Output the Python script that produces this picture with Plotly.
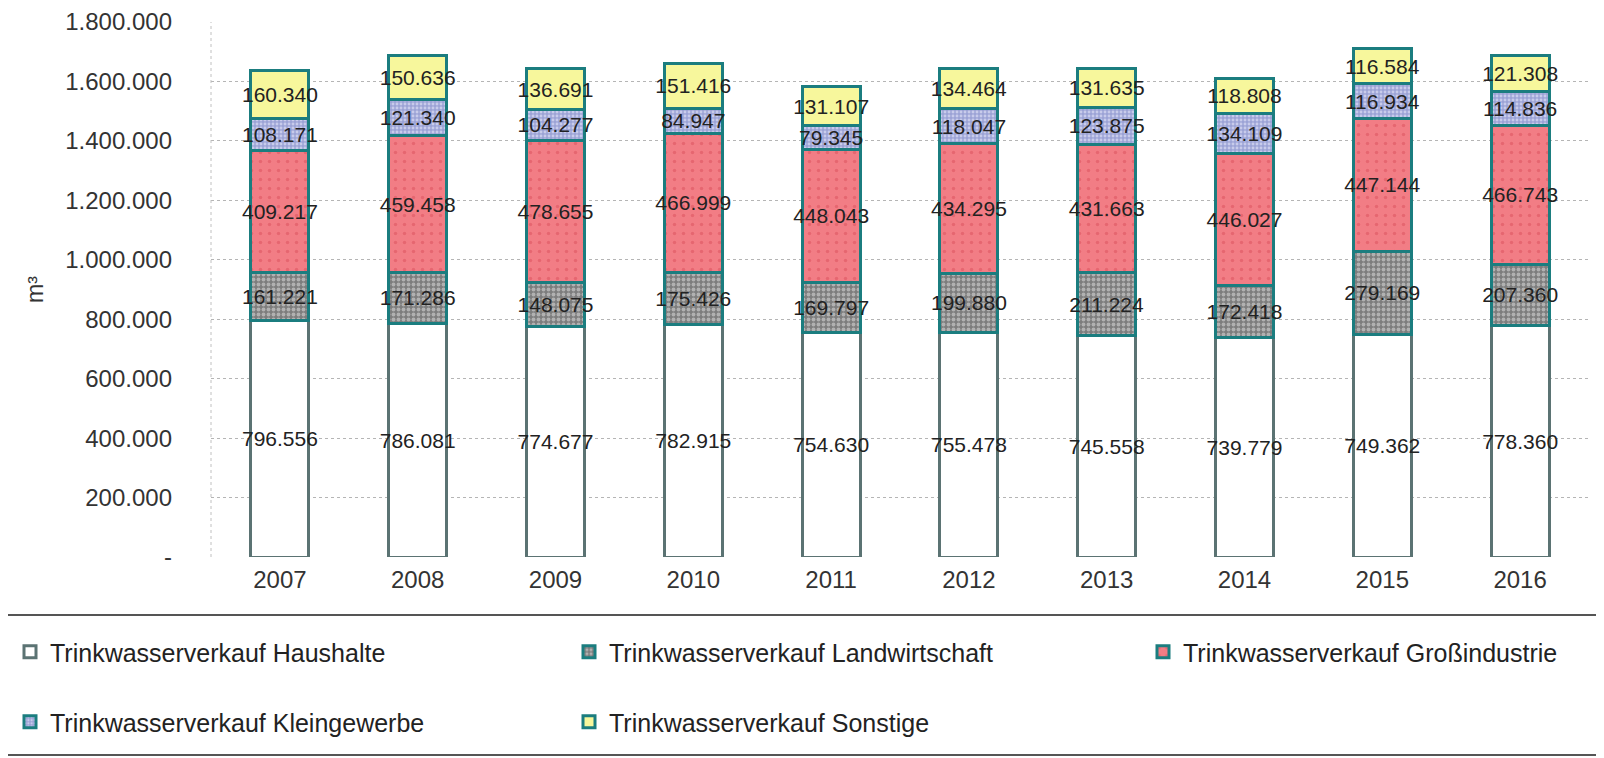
import plotly.graph_objects as go

years = ["2007", "2008", "2009", "2010", "2011", "2012", "2013", "2014", "2015", "2016"]

haushalte = [796556, 786081, 774677, 782915, 754630, 755478, 745558, 739779, 749362, 778360]
landwirtschaft = [161221, 171286, 148075, 175426, 169797, 199880, 211224, 172418, 279169, 207360]
grossindustrie = [409217, 459458, 478655, 466999, 448043, 434295, 431663, 446027, 447144, 466743]
kleingewerbe = [108171, 121340, 104277, 84947, 79345, 118047, 123875, 134109, 116934, 114836]
sonstige = [160340, 150636, 136691, 151416, 131107, 134464, 131635, 118808, 116584, 121308]

y_ticks = [0, 200000, 400000, 600000, 800000, 1000000, 1200000, 1400000, 1600000, 1800000]
y_tick_labels = ["-", "200.000", "400.000", "600.000", "800.000", "1.000.000",
                 "1.200.000", "1.400.000", "1.600.000", "1.800.000"]

FONT = "Arial, Liberation Sans, sans-serif"
TEAL = "#1b7d7f"

series = [
    # name, values, fill, pattern, border, legend
    ("Trinkwasserverkauf Haushalte", haushalte, "#ffffff", None, "#5b7373", "legend"),
    ("Trinkwasserverkauf Landwirtschaft", landwirtschaft, "#7d7d7d",
     dict(shape=".", fgcolor="#e6e6e6", size=5, solidity=0.45), TEAL, "legend"),
    ("Trinkwasserverkauf Großindustrie", grossindustrie, "#f27d85",
     dict(shape=".", fgcolor="#d9505c", size=9, solidity=0.12), TEAL, "legend3"),
    ("Trinkwasserverkauf Kleingewerbe", kleingewerbe, "#9ca3d6",
     dict(shape=".", fgcolor="#f4f4ff", size=4, solidity=0.4), TEAL, "legend2"),
    ("Trinkwasserverkauf Sonstige", sonstige, "#f7f79c", None, TEAL, "legend2"),
]

fig = go.Figure()
for name, vals, fill, pattern, border, leg in series:
    marker = dict(color=fill, line=dict(color=border, width=3))
    if pattern:
        marker["pattern"] = pattern
    fig.add_trace(go.Bar(
        x=years, y=vals, name=name, marker=marker,
        texttemplate="%{y:,.0f}", textposition="inside", insidetextanchor="middle",
        textangle=0, constraintext="none",
        textfont=dict(family=FONT, size=21, color="#222222"),
        legend=leg,
    ))

legend_common = dict(
    orientation="h", xref="container", yref="container",
    xanchor="left", yanchor="middle",
    font=dict(family=FONT, size=25, color="#222222"),
    entrywidth=514, itemwidth=30, bgcolor="rgba(0,0,0,0)",
    traceorder="normal",
)

# page body adds 8px offset; margins compensate
L, R, T, B = 203, 23, 14, 209
PH = 758 - T - B
PW = 1604 - L - R

fig.update_layout(
    barmode="stack",
    bargap=0.58,
    separators=",.",
    width=1604, height=758,
    margin=dict(l=L, r=R, t=T, b=B, autoexpand=False),
    plot_bgcolor="white", paper_bgcolor="white",
    showlegend=True,
    legend=dict(legend_common, x=2 / 1604, y=1 - 644 / 758),
    legend3=dict(legend_common, x=1135 / 1604, y=1 - 644 / 758),
    legend2=dict(legend_common, x=2 / 1604, y=1 - 714 / 758),
    xaxis=dict(
        tickfont=dict(family=FONT, size=24, color="#333333"),
        showgrid=False, ticks="", ticklabelstandoff=6,
    ),
    yaxis=dict(
        range=[0, 1800000],
        tickvals=y_ticks, ticktext=y_tick_labels,
        tickfont=dict(family=FONT, size=24, color="#333333"),
        showgrid=True, gridcolor="#b5b5b5", griddash="dot", gridwidth=1,
        zeroline=False, ticks="", ticklabelstandoff=38,
        title=dict(text="m³", font=dict(family=FONT, size=23, color="#333333"), standoff=15),
    ),
    shapes=[
        dict(type="line", xref="paper", yref="paper", x0=0, x1=0, y0=0, y1=1,
             line=dict(color="#c0c0c0", width=1, dash="dot")),
        dict(type="line", xref="paper", yref="paper", x0=-L / PW, x1=1 + R / PW,
             y0=-58 / PH, y1=-58 / PH, line=dict(color="#555555", width=2)),
        dict(type="line", xref="paper", yref="paper", x0=-L / PW, x1=1 + R / PW,
             y0=-198 / PH, y1=-198 / PH, line=dict(color="#555555", width=2)),
    ],
)

fig.write_html("out.html")
